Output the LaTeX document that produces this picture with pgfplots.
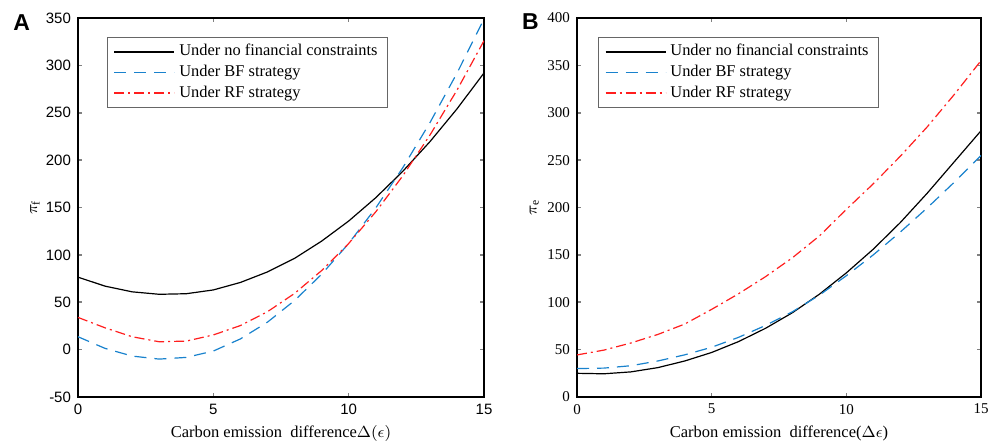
\documentclass[border=0pt]{standalone}
\usepackage{fontspec}
\setmainfont{Liberation Serif}
\setsansfont{Liberation Sans}
\usepackage{pgfplots}
\pgfplotsset{compat=1.18}

\definecolor{mblue}{RGB}{25,130,205}
\definecolor{mred}{RGB}{255,30,30}

\newcommand{\fs}{\fontsize{7.5}{9}\selectfont}
\newcommand{\fl}{\fontsize{8.2}{9}\selectfont}

\pgfplotsset{
  legend image code/.code={\draw[#1, line width=0.9pt] (0pt,0pt) -- (30pt,0pt);},
  panel/.style={
    scale only axis,
    height=189.5pt,
    xmin=0, xmax=15,
    xtick={0,5,10,15},
    axis line style={line width=1pt},
    major tick style={line width=0.8pt},
    major tick length=2pt,
    /pgf/number format/assume math mode=true,
    label style={font=\fontsize{8.25}{9}\selectfont},
    xlabel style={at={(axis description cs:0.5,-0.095)}, anchor=center},
    ylabel style={at={(axis description cs:-0.106,0.5)}, anchor=center, rotate=0},
    legend cell align=left,
    legend style={
      font=\fl, draw=black!60, line width=0.6pt,
      inner xsep=3pt, inner ysep=1.8pt, row sep=0pt,
      nodes={inner ysep=1.6pt},
      anchor=north west,
      /tikz/every even column/.append style={column sep=3pt},
    },
  },
  nofin/.style={draw=black, line width=0.6pt},
  bf/.style={draw=mblue, line width=0.6pt, dash pattern=on 6pt off 4pt},
  rf/.style={draw=mred, line width=0.6pt, dash pattern=on 5pt off 2pt on 1pt off 2pt},
}

\begin{document}
\begin{tikzpicture}
\path[use as bounding box] (-39pt,-23.5pt) rectangle (455.5pt,198.5pt);

% panel A
\begin{axis}[panel,
  width=203pt,
  ymin=-50, ymax=350, ytick={-50,0,...,350},
  ticklabel style={font=\sffamily\fs},
  xlabel={Carbon emission\ \ difference$\Delta(\epsilon)$},
  ylabel={$\pi_{\mathrm{f}}$},
  legend style={at={(axis description cs:0.0714,0.95)}},
]
\addplot[nofin] coordinates {(0,76.5)(1,67)(2,61)(3,58.4)(4,59)(5,63)(6,70.9)(7,82)(8,96.3)(9,114.5)(10,135.7)(11,160.3)(12,188.2)(13,219.4)(14,254)(15,292)};
\addplot[bf] coordinates {(0,13.6)(1,1.3)(2,-6.8)(3,-10)(4,-8.2)(5,-1.5)(6,11.3)(7,29)(8,51.8)(9,79.5)(10,112)(11,149.5)(12,192)(13,239.4)(14,291.7)(15,349)};
\addplot[rf] coordinates {(0,34)(1,23)(2,13.6)(3,8.3)(4,9)(5,15.5)(6,25.4)(7,40)(8,59.3)(9,83.4)(10,112)(11,145.4)(12,183.5)(13,226.3)(14,273.8)(15,326)};
\legend{Under no financial constraints, Under BF strategy, Under RF strategy}
\end{axis}

% panel B
\begin{axis}[panel,
  at={(249.5pt,0pt)},
  width=202pt,
  ymin=0, ymax=400, ytick={0,50,...,400},
  ticklabel style={font=\fs},
  xlabel={Carbon emission\ \ difference($\Delta\epsilon$)},
  ylabel={$\pi_{\mathrm{e}}$},
  legend style={at={(axis description cs:0.052,0.95)}},
]
\addplot[nofin] coordinates {(0,25)(1,24.5)(2,26.5)(3,31)(4,38)(5,47)(6,58.5)(7,72.5)(8,89)(9,108.5)(10,131)(11,156)(12,184)(13,215)(14,248)(15,281)};
\addplot[bf] coordinates {(0,30)(1,30.5)(2,33)(3,38)(4,44.5)(5,52.5)(6,63)(7,75.5)(8,90)(9,107.5)(10,128)(11,150)(12,174)(13,199.5)(14,226.5)(15,255)};
\addplot[rf] coordinates {(0,44.4)(1,49.5)(2,57)(3,66)(4,77)(5,92.5)(6,109)(7,127)(8,147)(9,170)(10,198)(11,225)(12,254)(13,285)(14,319)(15,355)};
\legend{Under no financial constraints, Under BF strategy, Under RF strategy}
\end{axis}

\node[font=\sffamily\bfseries\fontsize{11.5}{12}\selectfont] at (-28.2pt,187.3pt) {A};
\node[font=\sffamily\bfseries\fontsize{11.5}{12}\selectfont] at (226.2pt,187.8pt) {B};
\end{tikzpicture}
\end{document}
